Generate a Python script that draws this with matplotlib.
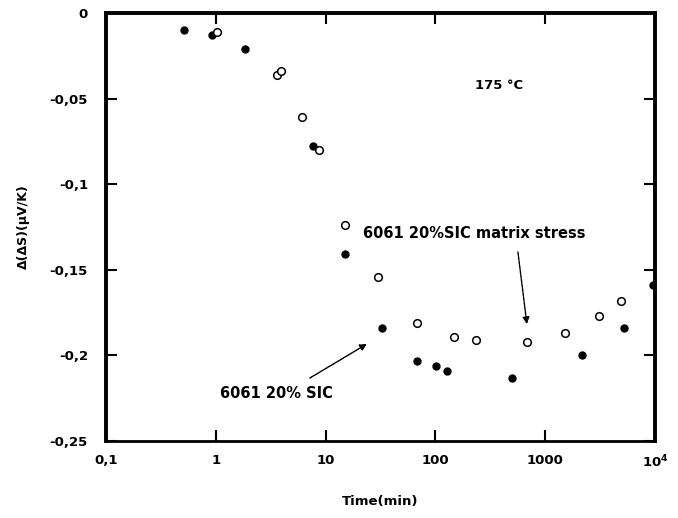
import matplotlib
matplotlib.use("Agg")
import matplotlib.pyplot as plt
from matplotlib.ticker import FixedLocator, FixedFormatter, NullLocator

plt.rcParams['font.family'] = ['DejaVu Sans']
plt.rcParams['mathtext.fontset'] = 'custom'
plt.rcParams['mathtext.rm'] = 'DejaVu Sans:bold'
plt.rcParams['mathtext.it'] = 'DejaVu Sans:bold'
plt.rcParams['mathtext.bf'] = 'DejaVu Sans:bold'

# 6061 20% SiC matrix stress (open circles)
open_time = [1.03, 3.6, 3.9, 6.1, 8.8, 15, 30, 68, 149, 234, 687, 1514, 3110, 4865]
open_val = [-0.011, -0.036, -0.034, -0.061, -0.080, -0.124, -0.154, -0.181,
            -0.189, -0.191, -0.192, -0.187, -0.177, -0.168]

# 6061 20% SiC (filled circles)
fill_time = [0.51, 0.92, 1.85, 7.7, 15, 33, 68, 101, 128, 495, 2146, 5210, 9660]
fill_val = [-0.010, -0.013, -0.021, -0.0775, -0.141, -0.184, -0.2035, -0.206,
            -0.209, -0.213, -0.200, -0.184, -0.159]

xticks = [0.1, 1, 10, 100, 1000, 10000]
xticklabels = ['0,1', '1', '10', '100', '1000', r'$10^4$']
yticks = [0, -0.05, -0.1, -0.15, -0.2, -0.25]
yticklabels = ['0', '-0,05', '-0,1', '-0,15', '-0,2', '-0,25']

fig = plt.figure(figsize=(6.78, 5.18), dpi=100)
ax = fig.add_axes([0.1563, 0.1486, 0.8097, 0.8263])

ax.plot(fill_time, fill_val, linestyle='none', marker='o', markersize=5,
        markerfacecolor='black', markeredgecolor='black', markeredgewidth=1, zorder=3)
ax.plot(open_time, open_val, linestyle='none', marker='o', markersize=5.5,
        markerfacecolor='white', markeredgecolor='black', markeredgewidth=1.1, zorder=4)

ax.set_xscale('log')
ax.set_xlim(0.1, 10000)
ax.set_ylim(-0.25, 0)

ax.xaxis.set_major_locator(FixedLocator(xticks))
ax.xaxis.set_major_formatter(FixedFormatter(xticklabels))
ax.xaxis.set_minor_locator(NullLocator())
ax.yaxis.set_major_locator(FixedLocator(yticks))
ax.yaxis.set_major_formatter(FixedFormatter(yticklabels))

ax.tick_params(axis='both', which='major', direction='in', length=8, width=1.5,
               top=True, right=True, labelsize=9.5, colors='black')
ax.tick_params(axis='y', pad=13)
ax.tick_params(axis='x', pad=9)
for lab in ax.get_xticklabels() + ax.get_yticklabels():
    lab.set_fontweight('bold')

for side in ['left', 'right', 'top']:
    ax.spines[side].set_linewidth(2.8)
ax.spines['bottom'].set_linewidth(2.0)

ax.set_xlabel('Time(min)', fontsize=9.5, fontweight='bold', labelpad=18)
ax.set_ylabel('Δ(ΔS)(μV/K)', fontsize=9, fontweight='bold', labelpad=14)

ax.text(380, -0.0426, '175 °C', fontsize=9.5, fontweight='bold', ha='center', va='center')

ax.annotate('', xy=(682, -0.1817), xytext=(565, -0.1396),
            arrowprops=dict(arrowstyle='-|>', color='black', lw=1.0,
                            linestyle=(0, (2.5, 0.8)), mutation_scale=10, shrinkA=0, shrinkB=0))
ax.text(21.9, -0.1285, '6061 20%SIC matrix stress', fontsize=10.5, fontweight='bold',
        ha='left', va='center')

ax.annotate('', xy=(23.8, -0.1933), xytext=(7.2, -0.2132),
            arrowprops=dict(arrowstyle='-|>', color='black', lw=1.0,
                            linestyle=(0, (1.2, 0.6)), mutation_scale=10, shrinkA=0, shrinkB=0))
ax.text(1.09, -0.2225, '6061 20% SIC', fontsize=10.5, fontweight='bold',
        ha='left', va='center')

fig.savefig('out.png', dpi=100)
